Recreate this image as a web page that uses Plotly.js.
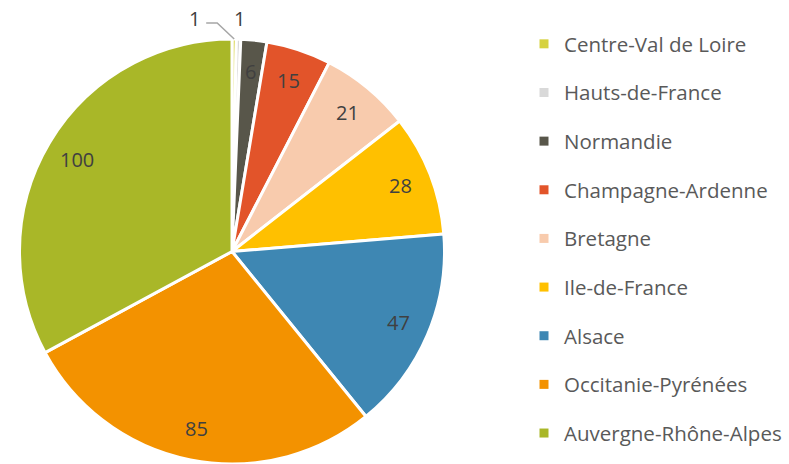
<!DOCTYPE html>
<html><head><meta charset="utf-8">
<script src="https://cdn.plot.ly/plotly-3.0.1.min.js"></script>
<style>html,body{margin:0;padding:0;background:#fff}</style>
</head><body>
<div id="chart" style="width:789px;height:464px"></div>
<script>
const regions = ["Centre-Val de Loire","Hauts-de-France","Normandie","Champagne-Ardenne","Bretagne","Ile-de-France","Alsace","Occitanie-Pyrénées","Auvergne-Rhône-Alpes"];
const counts = [1,1,6,15,21,28,47,85,100];
const colors = ["#d6d240","#d9d9d9","#58564a","#e2542a","#f8cbad","#ffc000","#3e87b3","#f39200","#a9b728"];

const W = 789, H = 464;
// pie geometry (pixels)
const pieLeft = 18, pieRight = 446, pieTop = 39;
const R = Math.min(pieRight - pieLeft, H - pieTop) / 2;
const cx = (pieLeft + pieRight) / 2, cy = H - R;

const pie = {
  type: "pie",
  labels: regions,
  values: counts,
  sort: false,
  direction: "clockwise",
  rotation: 0,
  marker: {colors: colors, line: {color: "#ffffff", width: 3}},
  textinfo: "none",
  domain: {x: [pieLeft / W, pieRight / W], y: [0, 1 - pieTop / H]},
  showlegend: false,
  hoverinfo: "label+value"
};

const legendTraces = regions.map((r, i) => ({
  type: "scatter",
  mode: "markers",
  x: [null], y: [null],
  name: r,
  legendgroup: "g" + i,
  marker: {symbol: "square", size: 9, color: colors[i]},
  showlegend: true,
  hoverinfo: "skip"
}));

// value labels derived from the data (slice mid-angles)
const total = counts.reduce((a, b) => a + b, 0);
const annotations = [];
const shapes = [];
let cum = 0;
const labelFont = {family: "Open Sans", size: 20, color: "#404040"};
counts.forEach((v, i) => {
  const mid = (cum + v / 2) / total * 2 * Math.PI;
  cum += v;
  const sx = Math.sin(mid), sy = Math.cos(mid);
  if (v / total > 0.01) {
    const r = 0.85 * R;
    annotations.push({
      xref: "paper", yref: "paper",
      x: (cx + r * sx) / W, y: 1 - (cy - r * sy) / H,
      text: String(v), showarrow: false, font: labelFont,
      xanchor: "center", yanchor: "middle"
    });
  } else {
    const ex = cx + R * sx, ey = cy - R * sy;
    if (i === 0) {
      // leader line: from slice edge up-left then horizontal
      const kx = ex - 17, ky = ey - 16, hx = kx - 11;
      shapes.push({
        type: "path", xref: "paper", yref: "paper",
        path: `M ${ex / W} ${1 - ey / H} L ${kx / W} ${1 - ky / H} L ${hx / W} ${1 - ky / H}`,
        line: {color: "#a6a6a6", width: 1.5}
      });
      annotations.push({
        xref: "paper", yref: "paper",
        x: (hx - 12) / W, y: 1 - (ky - 5) / H,
        text: String(v), showarrow: false, font: labelFont,
        xanchor: "center", yanchor: "middle"
      });
    } else {
      annotations.push({
        xref: "paper", yref: "paper",
        x: (ex + 1) / W, y: 1 - (ey - 21) / H,
        text: String(v), showarrow: false, font: labelFont,
        xanchor: "center", yanchor: "middle"
      });
    }
  }
});

const layout = {
  width: W, height: H,
  margin: {l: 0, r: 0, t: 0, b: 0},
  paper_bgcolor: "#ffffff",
  plot_bgcolor: "#ffffff",
  xaxis: {visible: false, domain: [0.99, 1]},
  yaxis: {visible: false, domain: [0.99, 1]},
  showlegend: true,
  legend: {
    x: 524 / W, y: 1 - 24 / H, xanchor: "left", yanchor: "top",
    font: {family: "Open Sans", size: 20.5, color: "#595959"},
    tracegroupgap: 19,
    itemwidth: 30,
    bgcolor: "rgba(0,0,0,0)"
  },
  annotations: annotations,
  shapes: shapes
};

Plotly.newPlot("chart", [pie].concat(legendTraces), layout, {displayModeBar: false, staticPlot: true});
</script>
</body></html>
